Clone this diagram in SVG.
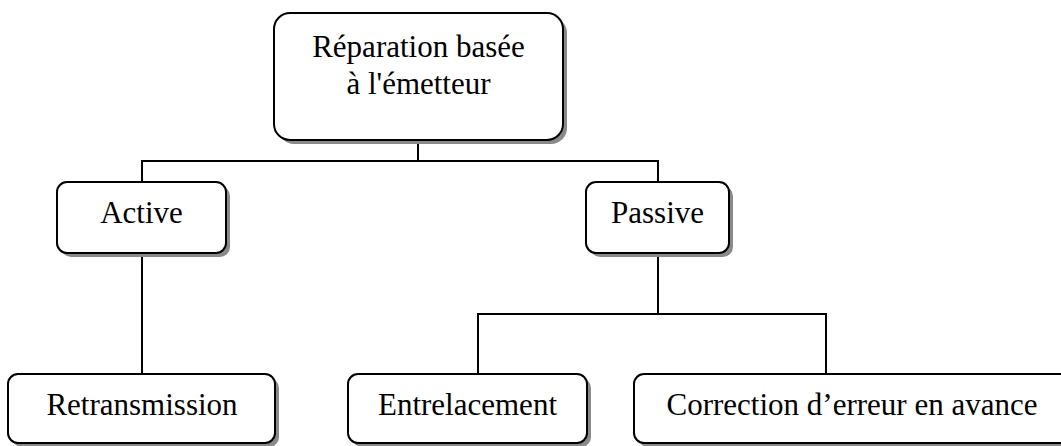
<svg xmlns="http://www.w3.org/2000/svg" width="1061" height="446" viewBox="0 0 1061 446">
<style>
.shadow{fill:#8a8a8a;stroke:none}
.box{fill:#fff;stroke:#000;stroke-width:2}
.t{font-family:"Liberation Serif","Times New Roman",serif;font-size:31px;fill:#000;text-anchor:middle}
.c{fill:none;stroke:#000;stroke-width:2}
</style>
<rect width="1061" height="446" fill="#fff"/>
<g id="connectors">
<polyline class="c" points="418,140 418,161"/>
<polyline class="c" points="142,182 142,161 658,161 658,182"/>
<polyline class="c" points="142,253 142,374"/>
<polyline class="c" points="658,253 658,314"/>
<polyline class="c" points="478,374 478,314 826,314 826,374"/>
</g>
<g id="root">
<rect class="shadow" x="278" y="17" width="289" height="127" rx="16"/>
<rect class="box" x="274" y="13" width="289" height="127" rx="16"/>
<text class="t" x="418.5" y="57">Réparation basée</text>
<text class="t" x="418.5" y="94">à l'émetteur</text>
</g>
<g id="active">
<rect class="shadow" x="61" y="186" width="169" height="71" rx="10"/>
<rect class="box" x="57" y="182" width="169" height="71" rx="10"/>
<text class="t" x="141.5" y="223">Active</text>
</g>
<g id="passive">
<rect class="shadow" x="590" y="186" width="143" height="71" rx="10"/>
<rect class="box" x="586" y="182" width="143" height="71" rx="10"/>
<text class="t" x="657.5" y="223">Passive</text>
</g>
<g id="retransmission">
<rect class="shadow" x="12" y="378" width="267" height="69" rx="10"/>
<rect class="box" x="8" y="374" width="267" height="69" rx="10"/>
<text class="t" x="142" y="415">Retransmission</text>
</g>
<g id="entrelacement">
<rect class="shadow" x="352" y="378" width="239" height="69" rx="10"/>
<rect class="box" x="348" y="374" width="239" height="69" rx="10"/>
<text class="t" x="467.5" y="415">Entrelacement</text>
</g>
<g id="correction">
<rect class="shadow" x="638" y="378" width="436" height="69" rx="10"/>
<rect class="box" x="634" y="374" width="436" height="69" rx="10"/>
<text class="t" x="852" y="415">Correction d’erreur en avance</text>
</g>
</svg>
